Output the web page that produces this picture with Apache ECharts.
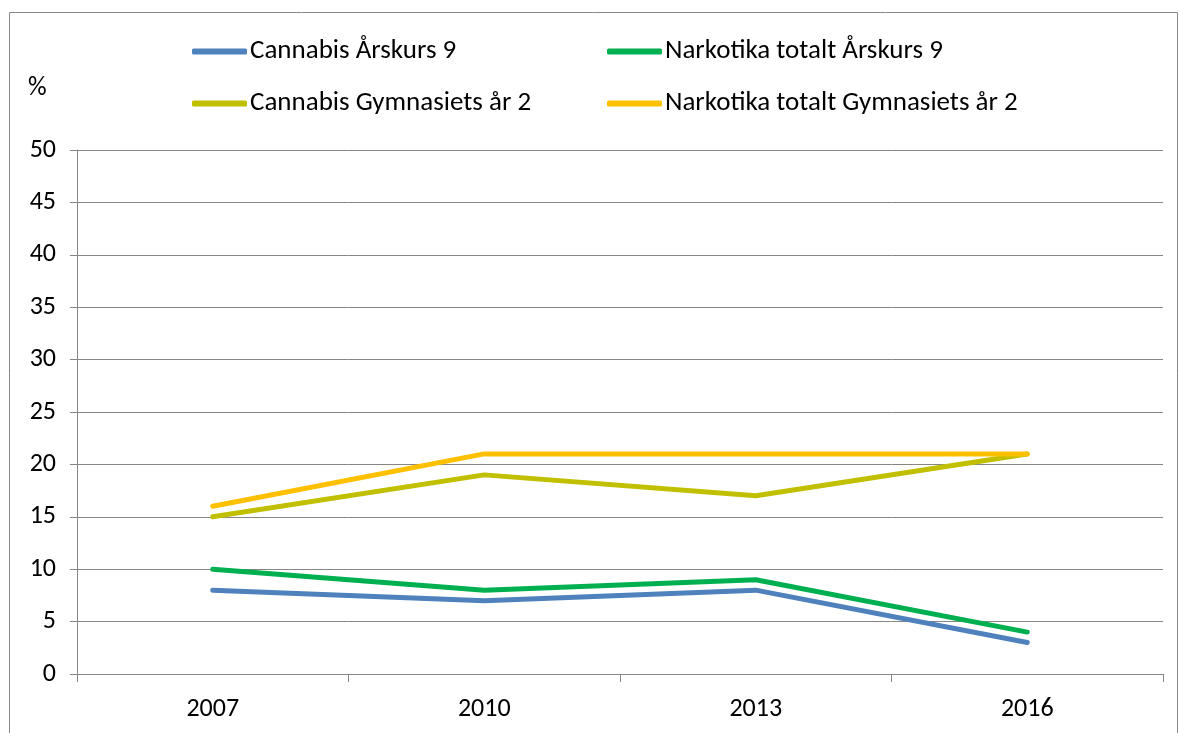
<!DOCTYPE html>
<html style="height: 100%">
<head>
<meta charset="utf-8">
<script src="https://cdn.jsdelivr.net/npm/echarts@6/dist/echarts.min.js"></script>
</head>
<body style="height: 100%; margin: 0; background: #fff">
<div id="container" style="width: 1180px; height: 733px"></div>
<script type="text/javascript">
var years = ['2007', '2010', '2013', '2016'];
var cannabisAk9 = [8, 7, 8, 3];
var narkotikaAk9 = [10, 8, 9, 4];
var cannabisGy2 = [15, 19, 17, 21];
var narkotikaGy2 = [16, 21, 21, 21];

var names = ['Cannabis Årskurs 9', 'Narkotika totalt Årskurs 9', 'Cannabis Gymnasiets år 2', 'Narkotika totalt Gymnasiets år 2'];
var colors = ['#4F81BD', '#00B050', '#C0C000', '#FFC000'];
var font = 'Carlito, "Liberation Sans", sans-serif';

var myChart = echarts.init(document.getElementById('container'));

function mkSeries(i, data) {
    return {
        name: names[i],
        type: 'line',
        data: data,
        symbol: 'none',
        lineStyle: { width: 5, color: colors[i], cap: 'round' },
        itemStyle: { color: colors[i] }
    };
}

var legendBase = {
    orient: 'vertical',
    top: 33,
    itemWidth: 55,
    itemHeight: 6,
    itemGap: 25,
    icon: 'roundRect',
    textStyle: { fontFamily: font, fontSize: 27, color: '#000', padding: [0, 0, 0, -2] }
};

var option = {
    animation: false,
    backgroundColor: '#fff',
    color: colors,
    title: {
        text: '%', left: 23, top: 70,
        textStyle: { fontFamily: font, fontSize: 26, fontWeight: 'normal', color: '#000' }
    },
    graphic: [{
        type: 'rect',
        shape: { x: 9.5, y: 12.5, width: 1168, height: 740 },
        style: { fill: null, stroke: '#888', lineWidth: 1 },
        silent: true
    }],
    legend: [
        Object.assign({ left: 187, data: [names[0], names[2]] }, legendBase),
        Object.assign({ left: 602, data: [names[1], names[3]] }, legendBase)
    ],
    grid: { left: 77, right: 17, top: 150, bottom: 59, containLabel: false },
    xAxis: {
        type: 'category',
        data: years,
        boundaryGap: true,
        axisLine: { lineStyle: { color: '#868686', width: 1 } },
        axisTick: { show: true, length: 8, lineStyle: { color: '#868686' } },
        axisLabel: { fontFamily: font, fontSize: 26, color: '#000', margin: 22 }
    },
    yAxis: {
        type: 'value',
        min: 0, max: 50, interval: 5,
        axisLine: { show: true, lineStyle: { color: '#868686', width: 1 } },
        axisTick: { show: true, length: 7, lineStyle: { color: '#868686' } },
        axisLabel: { fontFamily: font, fontSize: 26, color: '#000', margin: 21 },
        splitLine: { show: true, lineStyle: { color: '#868686', width: 1 } }
    },
    series: [
        mkSeries(0, cannabisAk9),
        mkSeries(1, narkotikaAk9),
        mkSeries(2, cannabisGy2),
        mkSeries(3, narkotikaGy2)
    ]
};
myChart.setOption(option);
</script>
</body>
</html>
